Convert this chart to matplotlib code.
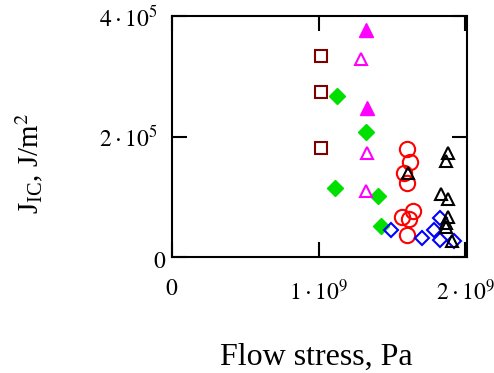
import matplotlib
matplotlib.use("Agg")
import matplotlib.pyplot as plt
import matplotlib.transforms as mtransforms

plt.rcParams["font.family"] = ["Liberation Serif", "DejaVu Serif"]
plt.rcParams["mathtext.fontset"] = "stix"

# flow stress (Pa) and J_IC (J/m^2), one pair of lists per material group
sq_x = [1.018e9, 1.018e9, 1.018e9]
sq_y = [3.34e5, 2.74e5, 1.81e5]

gd_x = [1.128e9, 1.32e9, 1.114e9, 1.402e9, 1.427e9]
gd_y = [2.67e5, 2.07e5, 1.14e5, 1.01e5, 0.51e5]

mtf_x = [1.32e9, 1.333e9]
mtf_y = [3.76e5, 2.47e5]

mto_x = [1.292e9, 1.333e9, 1.32e9]
mto_y = [3.29e5, 1.73e5, 1.10e5]

rc_x = [1.60e9, 1.625e9, 1.584e9, 1.60e9, 1.642e9, 1.568e9, 1.616e9, 1.60e9]
rc_y = [1.79e5, 1.57e5, 1.40e5, 1.23e5, 0.77e5, 0.67e5, 0.63e5, 0.365e5]

bd_x = [1.496e9, 1.705e9, 1.784e9, 1.824e9, 1.824e9, 1.923e9]
bd_y = [0.448e5, 0.31e5, 0.45e5, 0.64e5, 0.29e5, 0.27e5]

kt_x = [1.88e9, 1.87e9, 1.612e9, 1.836e9, 1.88e9, 1.88e9, 1.865e9, 1.865e9, 1.91e9]
kt_y = [1.73e5, 1.60e5, 1.39e5, 1.05e5, 0.96e5, 0.67e5, 0.56e5, 0.50e5, 0.27e5]

x_ticks = [0, 1e9, 2e9]
x_labels = [r"$0$", r"$1\cdot10^9$", r"$2\cdot10^9$"]
y_ticks = [0, 2e5, 4e5]
y_labels = [r"$0$", r"$2\cdot10^5$", r"$4\cdot10^5$"]

fig = plt.figure(figsize=(4.94, 3.73), dpi=100)
ax = fig.add_axes([0.348, 0.311, 0.597, 0.646])

ax.plot(sq_x, sq_y, "s", ls="none", mfc="none", mec="#800000", ms=9, mew=1.5)
ax.plot(gd_x, gd_y, "D", ls="none", mfc="#00e000", mec="#00e000", ms=8)
ax.plot(mtf_x, mtf_y, "^", ls="none", mfc="#ff00ff", mec="#ff00ff", ms=10)
ax.plot(mto_x, mto_y, "^", ls="none", mfc="none", mec="#ff00ff", ms=9, mew=1.5)
ax.plot(rc_x, rc_y, "o", ls="none", mfc="none", mec="#ff0000", ms=11, mew=1.5)
ax.plot(bd_x, bd_y, "D", ls="none", mfc="none", mec="#0000ff", ms=7, mew=1.5)
ax.plot(kt_x, kt_y, "^", ls="none", mfc="none", mec="black", ms=9, mew=1.5)

ax.set_xlim(0, 2.01e9)
ax.set_ylim(0, 4e5)
ax.set_xticks(x_ticks)
ax.set_xticklabels(x_labels)
ax.set_yticks(y_ticks)
ax.set_yticklabels(y_labels)
ax.tick_params(direction="in", length=11, width=1.5, top=True, right=True,
               labelsize=17)
ax.tick_params(axis="x", pad=16)
ax.tick_params(axis="y", pad=10)
for s in ax.spines.values():
    s.set_linewidth(1.5)

# the zero label on y sits closer to the axis and a bit lower
zero_lab = ax.get_yticklabels()[0]
zero_lab.set_transform(zero_lab.get_transform() +
                       mtransforms.ScaledTranslation(8 / 100, -3 / 100, fig.dpi_scale_trans))

ax.set_xlabel("Flow stress, Pa", fontsize=23)
ax.xaxis.set_label_coords(0.49, -0.355)
ax.set_ylabel(r"$\mathregular{J_{IC}}$, J/m$^2$", fontsize=21)
ax.yaxis.set_label_coords(-0.43, 0.39)

fig.savefig("out.png", dpi=100)
